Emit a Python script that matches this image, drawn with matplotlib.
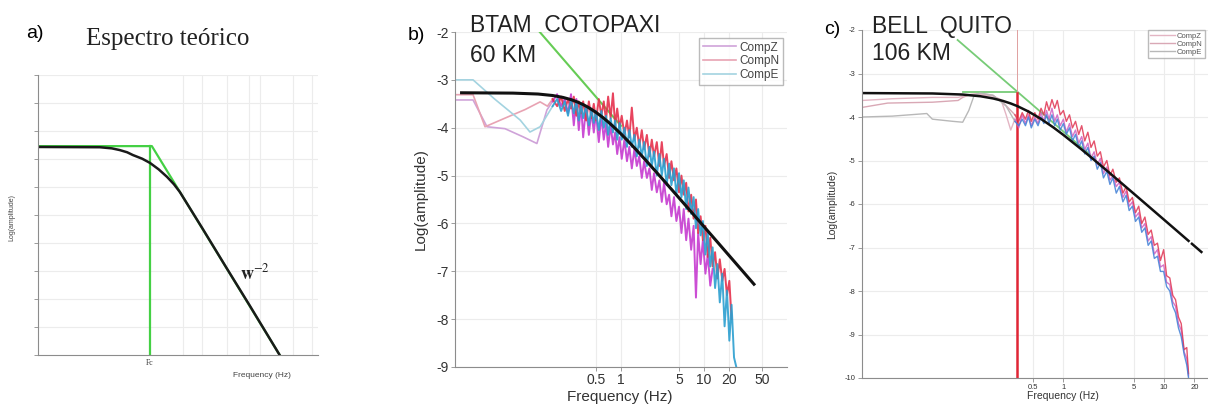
import matplotlib
matplotlib.use('Agg')
import matplotlib.pyplot as plt

plt.rcParams['font.family'] = ['Liberation Sans', 'DejaVu Sans']
plt.rcParams['mathtext.fontset'] = 'stix'
plt.rcParams['axes.unicode_minus'] = False

# ---- panel a: theoretical spectrum (x = frequency, fc = 1) ----
a_black_f = [0.0959, 0.35, 0.45, 0.53, 0.62, 0.70, 0.85, 1.0, 1.2, 1.43, 1.65, 1.87,
             3.0, 5.0, 8.0, 15.1]
a_black_y = [7.43, 7.42, 7.38, 7.32, 7.24, 7.14, 7.01, 6.86, 6.63, 6.36, 6.10, 5.82,
             4.52, 3.09, 1.79, 0.0]
a_green_f = [0.0959, 1.04, 15.1]
a_green_y = [7.46, 7.46, 0.0]
a_fc = 1.0
a_fc_level = 7.46

# ---- panel b: BTAM (Cotopaxi) ----
b_model_f = [0.012, 0.05, 0.1, 0.15, 0.2, 0.25, 0.3, 0.35, 0.4, 0.5, 0.6, 0.7, 0.8,
             1.0, 1.2, 1.5, 2.0, 3.0, 5.0, 7.0, 10.0, 15.0, 20.0, 30.0, 40.0]
b_model_y = [-3.27, -3.277, -3.296, -3.327, -3.367, -3.413, -3.464, -3.517, -3.571,
             -3.679, -3.782, -3.879, -3.969, -4.13, -4.27, -4.448, -4.685, -5.028,
             -5.467, -5.757, -6.067, -6.418, -6.668, -7.02, -7.27]
b_slope_f = [0.105, 1.0]
b_slope_y = [-2.0, -3.96]

# low-frequency (pale) part of each component
b_z_low_f = [0.01, 0.0165, 0.0243, 0.04, 0.066, 0.097, 0.128, 0.15]
b_z_low_y = [-3.42, -3.42, -3.98, -4.02, -4.19, -4.33, -3.63, -3.45]
b_n_low_f = [0.01, 0.0165, 0.023, 0.04, 0.07, 0.106, 0.13, 0.15]
b_n_low_y = [-3.31, -3.31, -3.98, -3.80, -3.62, -3.46, -3.55, -3.40]
b_e_low_f = [0.01, 0.0165, 0.03, 0.061, 0.08, 0.106, 0.15]
b_e_low_y = [-3.0, -3.0, -3.40, -3.84, -4.09, -3.98, -3.55]

b_f = [0.15, 0.17, 0.19, 0.21, 0.23, 0.25, 0.27, 0.29, 0.31, 0.33, 0.35, 0.38, 0.41,
       0.44, 0.47, 0.5, 0.54, 0.58, 0.62, 0.66, 0.7, 0.75, 0.8, 0.85, 0.9, 0.96, 1.02,
       1.1, 1.18, 1.26, 1.35, 1.45, 1.55, 1.66, 1.78, 1.9, 2.05, 2.2, 2.35, 2.5, 2.7,
       2.9, 3.1, 3.3, 3.55, 3.8, 4.05, 4.35, 4.65, 5.0, 5.35, 5.7, 6.1, 6.5, 7.0, 7.5,
       8.0, 8.5, 9.1, 9.7, 10.4, 11.1, 11.9, 12.7, 13.6, 14.5, 15.5, 16.6, 17.7, 18.9,
       20.2, 21.5, 23.0, 24.5]
b_z = [-3.45, -3.30, -3.55, -3.40, -3.70, -3.30, -3.95, -3.40, -4.05, -3.50, -4.20,
       -3.55, -4.15, -3.65, -4.10, -3.70, -4.30, -3.75, -4.25, -3.90, -4.40, -3.95,
       -4.35, -4.10, -4.55, -4.20, -4.65, -4.25, -4.70, -4.40, -4.85, -4.45, -4.80,
       -4.60, -5.05, -4.70, -5.05, -4.85, -5.30, -4.95, -5.35, -5.10, -5.55, -5.15,
       -5.60, -5.40, -5.85, -5.45, -5.95, -5.65, -6.20, -5.70, -6.35, -5.90, -6.55,
       -6.05, -7.55, -6.20, -6.85, -6.35, -7.05, -6.65, -7.30, -6.95]
b_n = [-3.40, -3.55, -3.35, -3.65, -3.40, -3.60, -3.35, -3.75, -3.45, -3.70, -3.45,
       -3.85, -3.45, -3.80, -3.50, -3.85, -3.40, -3.75, -3.45, -3.85, -3.35, -3.80,
       -3.28, -3.95, -3.60, -4.00, -3.75, -4.15, -3.85, -4.20, -3.58, -4.25, -4.00,
       -4.40, -4.05, -4.45, -4.15, -4.60, -4.25, -4.60, -4.30, -4.80, -4.30, -4.80,
       -4.55, -5.05, -4.70, -5.10, -4.85, -5.35, -5.00, -5.40, -5.15, -5.75, -5.40,
       -5.90, -5.50, -6.20, -5.85, -6.35, -6.05, -6.70, -6.30, -6.90, -6.60, -7.15,
       -6.75, -7.20, -6.95, -7.50, -7.20, -8.00]
b_e = [-3.55, -3.40, -3.65, -3.45, -3.75, -3.40, -3.70, -3.45, -3.85, -3.50, -3.80,
       -3.55, -3.95, -3.60, -3.90, -3.65, -4.05, -3.65, -4.00, -3.75, -4.15, -3.80,
       -4.10, -3.85, -4.25, -3.90, -4.25, -4.00, -4.40, -4.05, -4.40, -4.15, -4.60,
       -4.25, -4.60, -4.30, -4.80, -4.40, -4.80, -4.50, -5.00, -4.55, -5.00, -4.65,
       -5.20, -4.75, -5.20, -4.85, -5.40, -4.95, -5.45, -5.10, -5.70, -5.25, -5.80,
       -5.45, -6.10, -5.70, -6.25, -5.95, -6.65, -6.20, -6.90, -6.50, -7.35, -6.85,
       -7.65, -7.05, -8.15, -7.40, -8.45, -7.70, -8.80, -9.00]

# ---- panel c: BELL (Quito) ----
c_model_f = [0.01, 0.05, 0.1, 0.15, 0.2, 0.25, 0.3, 0.35, 0.45, 0.6, 0.8, 1.0, 1.5,
             2.0, 3.0, 5.0, 7.0, 10.0, 14.0, 17.5]
c_model_y = [-3.45, -3.459, -3.484, -3.523, -3.573, -3.629, -3.689, -3.751, -3.874,
             -4.045, -4.244, -4.412, -4.737, -4.977, -5.322, -5.762, -6.053, -6.362,
             -6.654, -6.848]
c_model_dash_f = [18.5, 27.0]
c_model_dash_y = [-6.896, -7.225]
c_flat_f = [0.1, 0.35]
c_flat_y = [-3.43, -3.43]
c_slope_f = [0.089, 1.85]
c_slope_y = [-2.23, -4.87]
c_fc = 0.35

c_z_low_f = [0.01, 0.02, 0.05, 0.09, 0.11, 0.14, 0.2, 0.24, 0.27, 0.3, 0.33]
c_z_low_y = [-3.62, -3.58, -3.55, -3.55, -3.50, -3.48, -3.52, -3.60, -3.95, -4.30, -4.05]
c_n_low_f = [0.01, 0.018, 0.05, 0.09, 0.1, 0.12, 0.15, 0.2, 0.26, 0.33]
c_n_low_y = [-3.78, -3.68, -3.66, -3.62, -3.55, -3.48, -3.46, -3.50, -3.70, -3.95]
c_e_low_f = [0.01, 0.02, 0.044, 0.05, 0.08, 0.1, 0.115, 0.13, 0.15, 0.2, 0.27, 0.33]
c_e_low_y = [-4.0, -3.98, -3.92, -4.05, -4.10, -4.12, -3.85, -3.50, -3.45, -3.50, -3.75, -4.10]

c_f = [0.33, 0.36, 0.39, 0.42, 0.45, 0.48, 0.52, 0.56, 0.6, 0.64, 0.68, 0.72, 0.77,
       0.82, 0.87, 0.93, 1.0, 1.07, 1.15, 1.23, 1.32, 1.42, 1.52, 1.63, 1.75, 1.88,
       2.02, 2.17, 2.33, 2.5, 2.7, 2.9, 3.1, 3.35, 3.6, 3.9, 4.2, 4.5, 4.85, 5.2, 5.6,
       6.0, 6.45, 6.95, 7.45, 8.0, 8.6, 9.2, 9.9, 10.6, 11.4, 12.2, 13.0, 13.9, 14.8,
       15.8, 16.8, 17.5]
c_z = [-4.05, -4.25, -3.95, -4.15, -3.95, -4.20, -4.00, -4.15, -3.90, -4.10, -3.85,
       -4.05, -3.80, -4.10, -3.95, -4.20, -4.05, -4.35, -4.15, -4.45, -4.30, -4.60,
       -4.45, -4.75, -4.60, -4.95, -4.80, -5.10, -4.95, -5.30, -5.15, -5.45, -5.35,
       -5.60, -5.50, -5.85, -5.70, -6.05, -5.95, -6.30, -6.20, -6.55, -6.45, -6.85,
       -6.75, -7.15, -7.05, -7.45, -7.40, -7.80, -7.85, -8.25, -8.35, -8.75, -8.90,
       -9.40, -9.55, -9.95]
c_n = [-3.95, -4.10, -3.90, -4.05, -3.85, -4.10, -3.90, -4.05, -3.80, -3.95, -3.65,
       -3.85, -3.60, -3.80, -3.62, -3.95, -3.85, -4.10, -3.95, -4.25, -4.10, -4.40,
       -4.20, -4.55, -4.35, -4.70, -4.55, -4.90, -4.80, -5.15, -5.00, -5.35, -5.20,
       -5.50, -5.40, -5.75, -5.60, -5.95, -5.85, -6.20, -6.05, -6.45, -6.30, -6.70,
       -6.60, -6.95, -6.90, -7.30, -7.05, -7.65, -7.70, -8.10, -8.20, -8.60, -8.75,
       -9.35, -9.30, -9.90]
c_e = [-4.10, -4.20, -4.05, -4.20, -4.00, -4.25, -4.05, -4.20, -4.00, -4.15, -3.95,
       -4.15, -3.95, -4.20, -4.05, -4.30, -4.15, -4.40, -4.25, -4.55, -4.40, -4.70,
       -4.55, -4.85, -4.70, -5.00, -4.90, -5.20, -5.05, -5.40, -5.25, -5.55, -5.40,
       -5.75, -5.60, -5.95, -5.80, -6.15, -6.05, -6.40, -6.30, -6.65, -6.55, -6.95,
       -6.85, -7.25, -7.20, -7.55, -7.55, -7.90, -8.00, -8.35, -8.50, -8.85, -9.05,
       -9.45, -9.70, -10.0]

comp_labels = ['CompZ', 'CompN', 'CompE']

W, H = 1208, 417
fig = plt.figure(figsize=(W / 100, H / 100), dpi=100)


def px_axes(x0, x1, ytop, ybot):
    return fig.add_axes([x0 / W, 1 - ybot / H, (x1 - x0) / W, (ybot - ytop) / H])


def style_axes(ax, tick_size):
    for s in ['top', 'right']:
        ax.spines[s].set_visible(False)
    for s in ['left', 'bottom']:
        ax.spines[s].set_color('#8c8c8c')
        ax.spines[s].set_linewidth(0.8)
    ax.tick_params(labelsize=tick_size, colors='#8c8c8c', labelcolor='#333333',
                   length=3, width=0.6, pad=1.5)
    ax.tick_params(which='minor', length=0)
    ax.grid(True, color='#ececec', linewidth=0.8)
    ax.set_axisbelow(True)


grid_color = '#ececec'

# ---------------- panel a ----------------
ax = px_axes(38, 318, 75, 355)
ax.set_xscale('log')
ax.set_xlim(0.0959, 33.7)
ax.set_ylim(0, 10)
style_axes(ax, 5)
ax.grid(False)
ax.set_yticks(range(0, 11))
ax.set_yticklabels([])
ax.set_xticks([a_fc])
ax.set_xticklabels(['Fc'], fontsize=5.5, family=['Liberation Serif'])
ax.tick_params(axis='x', length=0, pad=3)
for yv in range(1, 11):
    ax.axhline(yv, color=grid_color, lw=0.8, zorder=0)
for xv in [2, 3, 5, 8, 10, 20, 30]:
    ax.axvline(xv, color=grid_color, lw=0.8, zorder=0)
ax.plot(a_green_f, a_green_y, color='#44d044', lw=1.6)
ax.plot([a_fc, a_fc], [0, a_fc_level], color='#44d044', lw=1.6)
ax.plot(a_black_f, a_black_y, color='#1a1a1a', lw=1.8)
ax.text(9.0, 2.93, r'$\mathbf{w}^{-2}$', fontsize=13, ha='center', va='center',
        color='#222222')
ax.set_ylabel('Log(amplitude)', fontsize=5, color='#444444')
ax.yaxis.set_label_coords(-0.082, 0.49)
ax.set_xlabel('Frequency (Hz)', fontsize=6, color='#444444')
ax.xaxis.set_label_coords(0.80, -0.061)

fig.text(35 / W, 1 - 33 / H, 'a)', fontsize=14, ha='center', va='center')
fig.text(168 / W, 1 - 39 / H, 'Espectro teórico', fontsize=18, ha='center',
         va='center', family=['Liberation Serif'], color='#222222')

# ---------------- panel b ----------------
ax = px_axes(455, 787, 32, 367)
ax.set_xscale('log')
ax.set_xlim(0.01, 100)
ax.set_ylim(-9, -2)
style_axes(ax, 10)
ax.set_xticks([0.5, 1, 5, 10, 20, 50])
ax.set_xticklabels(['0.5', '1', '5', '10', '20', '50'])
ax.set_yticks(range(-9, -1))
ax.plot(b_slope_f, b_slope_y, color='#66cc55', lw=1.5)
pale_b = ['#cfa3d9', '#e8a3b3', '#a3d3e0']
strong_b = ['#c63bd0', '#e6304c', '#2b9fd0']
lows_b = [(b_z_low_f, b_z_low_y), (b_n_low_f, b_n_low_y), (b_e_low_f, b_e_low_y)]
for (lf, ly), col, lab in zip(lows_b, pale_b, comp_labels):
    ax.plot(lf, ly, color=col, lw=1.2, label=lab)
for vals, col in zip([b_z, b_n, b_e], strong_b):
    ax.plot(b_f[:len(vals)], vals, color=col, lw=1.4, alpha=0.9)
ax.plot(b_model_f, b_model_y, color='#111111', lw=2.2)
ax.set_ylabel('Log(amplitude)', fontsize=11, color='#333333')
ax.yaxis.set_label_coords(-0.081, 0.5)
ax.set_xlabel('Frequency (Hz)', fontsize=11, color='#333333')
ax.xaxis.set_label_coords((620 - 455) / 332, -0.068)
leg = ax.legend(loc='upper right', bbox_to_anchor=(0.988, 0.982), fontsize=8.5,
                frameon=True, fancybox=False, edgecolor='#aaaaaa', borderpad=0.3,
                labelspacing=0.15, handlelength=2.8, handletextpad=0.3,
                borderaxespad=0)
for t in leg.get_texts():
    t.set_color('#444444')

fig.text(416 / W, 1 - 35 / H, 'b)', fontsize=14, ha='center', va='center')
fig.text(470 / W, 1 - 32 / H, 'BTAM  COTOPAXI', fontsize=16.5, va='baseline',
         color='#222222')
fig.text(470 / W, 1 - 62 / H, '60 KM', fontsize=16.5, va='baseline', color='#222222')

# ---------------- panel c ----------------
ax = px_axes(862, 1208, 30, 378)
ax.set_xscale('log')
ax.set_xlim(0.01, 27.3)
ax.set_ylim(-10, -2)
style_axes(ax, 5.5)
ax.tick_params(axis='x', pad=1)
ax.set_xticks([0.5, 1, 5, 10, 20])
ax.set_xticklabels(['0.5', '1', '5', '10', '20'])
ax.set_yticks(range(-10, -1))
ax.plot(c_slope_f, c_slope_y, color='#77cc77', lw=1.3)
ax.plot(c_flat_f, c_flat_y, color='#77cc77', lw=1.3)
ax.plot([c_fc, c_fc], [-3.45, -2], color='#e0a0a0', lw=0.7)
ax.plot([c_fc, c_fc], [-10, -3.45], color='#e02535', lw=1.8)
pale_c = ['#e3b5c3', '#d9a8b5', '#b8b8b8']
strong_c = ['#cf5fc0', '#e03452', '#3f7fd6']
lows_c = [(c_z_low_f, c_z_low_y), (c_n_low_f, c_n_low_y), (c_e_low_f, c_e_low_y)]
for (lf, ly), col, lab in zip(lows_c, pale_c, comp_labels):
    ax.plot(lf, ly, color=col, lw=1.0, label=lab)
for vals, col in zip([c_z, c_n, c_e], strong_c):
    ax.plot(c_f[:len(vals)], vals, color=col, lw=1.0, alpha=0.85)
ax.plot(c_model_f, c_model_y, color='#111111', lw=1.8)
ax.plot(c_model_dash_f, c_model_dash_y, color='#111111', lw=1.8, dashes=(6, 3))
ax.set_ylabel('Log(amplitude)', fontsize=7.5, color='#333333')
ax.yaxis.set_label_coords(-0.072, 0.5)
ax.set_xlabel('Frequency (Hz)', fontsize=7.5, color='#333333')
ax.xaxis.set_label_coords((1063 - 862) / 346, -0.037)
leg = ax.legend(loc='upper right', bbox_to_anchor=(0.991, 1.0), fontsize=5.5,
                frameon=True, fancybox=False, edgecolor='#aaaaaa', borderpad=0.3,
                labelspacing=0.1, handlelength=3.2, handletextpad=0.3,
                borderaxespad=0)
for t in leg.get_texts():
    t.set_color('#555555')

fig.text(832 / W, 1 - 30 / H, 'c)', fontsize=14, ha='center', va='center')
fig.text(872 / W, 1 - 33 / H, 'BELL  QUITO', fontsize=16.5, va='baseline',
         color='#222222')
fig.text(872 / W, 1 - 60 / H, '106 KM', fontsize=16.5, va='baseline', color='#222222')

fig.savefig('out.png', dpi=100)
